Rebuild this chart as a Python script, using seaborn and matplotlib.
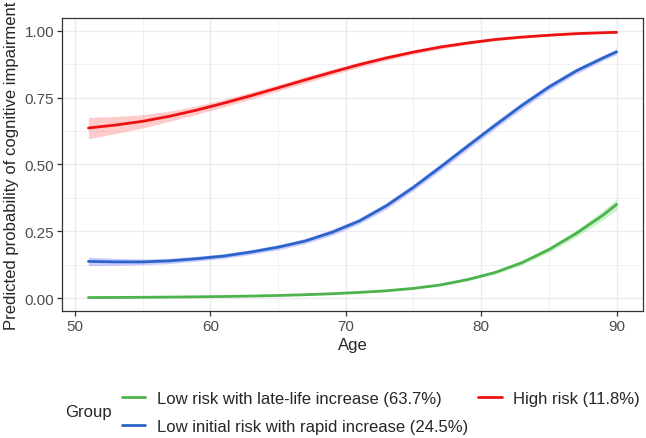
import numpy as np
import pandas as pd
import seaborn as sns
from matplotlib import pyplot as plt

age = [51, 53, 55, 57, 59, 61, 63, 65, 67, 69, 71, 73, 75, 77, 79, 81, 83, 85, 87, 89, 90]

low_late = [0.0017, 0.0021, 0.0027, 0.0035, 0.0044, 0.0057, 0.0073, 0.0095, 0.0123, 0.016, 0.021,
            0.027, 0.036, 0.049, 0.069, 0.095, 0.132, 0.181, 0.241, 0.310, 0.350]
low_late_hw = [0.001, 0.001, 0.001, 0.001, 0.001, 0.001, 0.001, 0.002, 0.002, 0.002, 0.002,
               0.003, 0.003, 0.004, 0.005, 0.006, 0.008, 0.010, 0.013, 0.017, 0.020]

low_rapid = [0.137, 0.135, 0.135, 0.139, 0.147, 0.157, 0.172, 0.190, 0.213, 0.246, 0.288,
             0.345, 0.414, 0.490, 0.568, 0.645, 0.720, 0.789, 0.849, 0.898, 0.921]
low_rapid_hw = [0.016, 0.013, 0.011, 0.010, 0.009, 0.009, 0.009, 0.010, 0.010, 0.011, 0.011,
                0.012, 0.012, 0.013, 0.013, 0.013, 0.013, 0.012, 0.011, 0.010, 0.010]

high = [0.636, 0.647, 0.661, 0.680, 0.703, 0.729, 0.757, 0.786, 0.816, 0.845, 0.873,
        0.898, 0.920, 0.939, 0.954, 0.967, 0.976, 0.983, 0.989, 0.9925, 0.994]
high_hw = [0.040, 0.032, 0.025, 0.019, 0.016, 0.014, 0.013, 0.012, 0.012, 0.011, 0.010,
           0.009, 0.008, 0.007, 0.006, 0.005, 0.004, 0.003, 0.003, 0.002, 0.002]

groups = ["Low risk with late-life increase (63.7%)",
          "Low initial risk with rapid increase (24.5%)",
          "High risk (11.8%)"]
line_colors = ["#4DB34D", "#2A64C8", "#EE1111"]
fill_colors = ["#33CC33", "#3333FF", "#FF3333"]

df = pd.concat([
    pd.DataFrame({"Age": age, "p": low_late, "hw": low_late_hw, "Group": groups[0]}),
    pd.DataFrame({"Age": age, "p": low_rapid, "hw": low_rapid_hw, "Group": groups[1]}),
    pd.DataFrame({"Age": age, "p": high, "hw": high_hw, "Group": groups[2]}),
])

sns.set_style("white")
plt.rcParams["font.family"] = ["Liberation Sans", "DejaVu Sans"]

fig = plt.figure(figsize=(6.46, 4.39), dpi=100)
ax = fig.add_axes([62 / 646, 1 - 312 / 439, 581 / 646, 293 / 439])

for g, fc in zip(groups, fill_colors):
    d = df[df["Group"] == g]
    ax.fill_between(d["Age"], d["p"] - d["hw"], d["p"] + d["hw"],
                    color=fc, alpha=0.25, lw=0, zorder=2)

sns.lineplot(data=df, x="Age", y="p", hue="Group", hue_order=groups,
             palette=line_colors, lw=2.0, ax=ax, zorder=3)

ax.set_xlim(49.05, 91.95)
ax.set_ylim(-0.0486, 1.0475)
ax.set_xticks([50, 60, 70, 80, 90])
ax.set_xticks([55, 65, 75, 85], minor=True)
ax.set_yticks([0, 0.25, 0.5, 0.75, 1.0])
ax.set_yticklabels(["0.00", "0.25", "0.50", "0.75", "1.00"])
ax.set_yticks([0.125, 0.375, 0.625, 0.875], minor=True)
ax.grid(True, which="major", color="#EBEBEB", lw=1.0, zorder=0)
ax.grid(True, which="minor", color="#EBEBEB", lw=0.5, zorder=0)
ax.set_axisbelow(True)
for s in ax.spines.values():
    s.set_color("#333333")
    s.set_linewidth(0.9)
ax.tick_params(which="major", length=3.5, width=0.9, color="#333333",
               labelsize=11, labelcolor="#4D4D4D", pad=2, direction="out",
               bottom=True, left=True)
ax.tick_params(which="minor", length=0)

ax.set_xlabel("Age", fontsize=12, labelpad=3)
ax.set_ylabel("Predicted probability of cognitive impairment", fontsize=12, labelpad=4)

handles, labels = ax.get_legend_handles_labels()
ax.get_legend().remove()
fig.legend(handles, labels, ncol=2, loc="center left",
           bbox_to_anchor=(122 / 646, 1 - 413.5 / 439), frameon=False,
           borderpad=0, borderaxespad=0,
           fontsize=12, handlelength=1.4, handletextpad=0.7,
           columnspacing=0.6, labelspacing=0.8)
fig.text(65 / 646, 1 - 413 / 439, "Group", fontsize=12, va="center", ha="left")

fig.savefig("out.png", dpi=100)
